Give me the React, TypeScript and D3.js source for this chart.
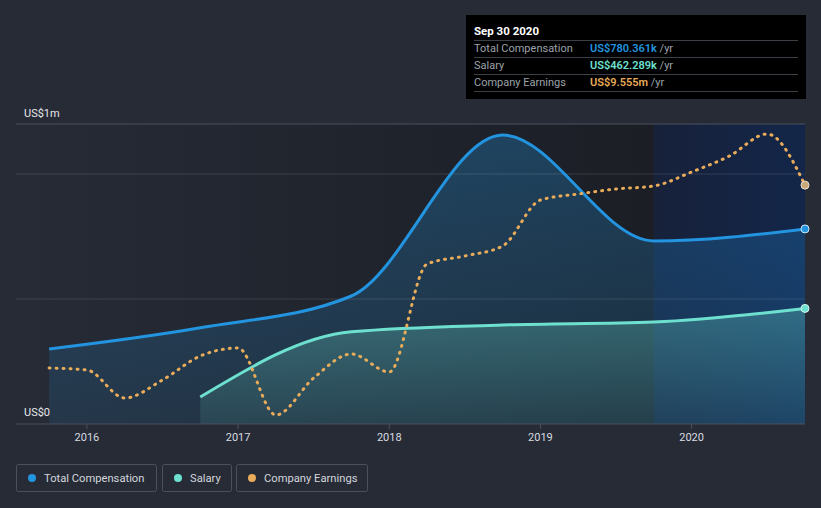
import React from "react";
import * as d3 from "d3";

const compDates = [2015.75, 2016.75, 2017.75, 2018.75, 2019.75, 2020.75];
const compValues = [300, 385, 512, 1156, 732, 780.361]; // US$k

const salaryDates = [2016.75, 2017.75, 2018.75, 2019.75, 2020.75];
const salaryValues = [108, 369, 396, 408, 462.289]; // US$k

const earningsDates = [
  2015.75, 2016.0, 2016.25, 2016.5, 2016.75, 2017.0, 2017.25, 2017.5, 2017.75,
  2018.0, 2018.25, 2018.5, 2018.75, 2019.0, 2019.25, 2019.5, 2019.75, 2020.0,
  2020.25, 2020.5, 2020.75,
];
const earningsValues = [
  2.24, 2.16, 1.04, 1.76, 2.72, 3.04, 0.36, 1.84, 2.8, 2.08, 6.4, 6.72, 7.12,
  8.96, 9.2, 9.4, 9.52, 10.08, 10.72, 11.6, 9.555,
]; // US$m

const yearTicks = [2016, 2017, 2018, 2019, 2020];
const compGridValues = [0, 500, 1000, 1200];

const W = 821;
const H = 508;
const FONT = "Roboto, 'Noto Sans', sans-serif";

export default function App() {
  const left = 16;
  const right = 805;
  const top = 124;
  const bottom = 424;

  const x = d3.scaleLinear().domain([2015.531, 2020.75]).range([left, right]);
  const yComp = d3.scaleLinear().domain([0, 1200]).range([bottom, top]);
  const yEarn = d3.scaleLinear().domain([0, 12]).range([bottom, top]);

  const comp = compDates.map((d, i) => ({ d, v: compValues[i] }));
  const sal = salaryDates.map((d, i) => ({ d, v: salaryValues[i] }));
  const earn = earningsDates.map((d, i) => ({ d, v: earningsValues[i] }));

  const compLine = d3
    .line<{ d: number; v: number }>()
    .x((p) => x(p.d))
    .y((p) => yComp(p.v))
    .curve(d3.curveMonotoneX);
  const compArea = d3
    .area<{ d: number; v: number }>()
    .x((p) => x(p.d))
    .y0(bottom)
    .y1((p) => yComp(p.v))
    .curve(d3.curveMonotoneX);
  const earnLine = d3
    .line<{ d: number; v: number }>()
    .x((p) => x(p.d))
    .y((p) => yEarn(p.v))
    .curve(d3.curveMonotoneX);

  const hlStart = x(2019.75);
  const lastComp = comp[comp.length - 1];
  const lastSal = sal[sal.length - 1];
  const lastEarn = earn[earn.length - 1];

  const legend = [
    { label: "Total Compensation", color: "#2394df", x: 16, w: 140 },
    { label: "Salary", color: "#6ee0cf", x: 162, w: 69 },
    { label: "Company Earnings", color: "#e9ac5a", x: 236, w: 131 },
  ];

  const rows = [
    { label: "Total Compensation", value: "US$780.361k", color: "#2394df" },
    { label: "Salary", value: "US$462.289k", color: "#6ee0cf" },
    { label: "Company Earnings", value: "US$9.555m", color: "#e9ac5a" },
  ];

  return (
    <svg
      width={W}
      height={H}
      style={{ position: "absolute", left: 0, top: 0, fontFamily: FONT }}
    >
      <defs>
        <linearGradient id="bgPast" x1="0" x2="1" y1="0" y2="0">
          <stop offset="0%" stopColor="#262b36" />
          <stop offset="100%" stopColor="#1b1e25" />
        </linearGradient>
        <linearGradient id="bgHl" x1="0" x2="1" y1="0" y2="0">
          <stop offset="0%" stopColor="#17213a" />
          <stop offset="100%" stopColor="#132649" />
        </linearGradient>
        <linearGradient id="compFill" x1="0" x2="0" y1="0" y2="1">
          <stop offset="0%" stopColor="#2394df" stopOpacity={0.3} />
          <stop offset="100%" stopColor="#2394df" stopOpacity={0.12} />
        </linearGradient>
        <linearGradient id="salFill" x1="0" x2="0" y1="0" y2="1">
          <stop offset="0%" stopColor="#6ee0cf" stopOpacity={0.3} />
          <stop offset="100%" stopColor="#6ee0cf" stopOpacity={0.1} />
        </linearGradient>
      </defs>

      <rect x={0} y={0} width={W} height={H} fill="#262b36" />
      <rect x={left} y={top} width={hlStart - left} height={bottom - top} fill="url(#bgPast)" />
      <rect x={hlStart} y={top} width={right - hlStart} height={bottom - top} fill="url(#bgHl)" />

      <path d={compArea(comp) || ""} fill="url(#compFill)" />
      <path d={compArea(sal) || ""} fill="url(#salFill)" />

      {compGridValues.map((v) => (
        <line
          key={v}
          x1={left}
          x2={right}
          y1={yComp(v)}
          y2={yComp(v)}
          stroke={v === 0 || v === 1200 ? "#4a505c" : "rgba(255,255,255,0.12)"}
          strokeWidth={1}
        />
      ))}

      {yearTicks.map((t) => (
        <g key={t}>
          <line x1={x(t)} x2={x(t)} y1={bottom} y2={bottom + 5} stroke="#4a505c" />
          <text
            x={x(t)}
            y={441}
            textAnchor="middle"
            fontSize={11}
            fill="#d8dbe0"
          >
            {t}
          </text>
        </g>
      ))}

      <text x={24} y={117} fontSize={11} fill="#e6e8eb">US$1m</text>
      <text x={24} y={416} fontSize={11} fill="#e6e8eb">US$0</text>

      <path d={compLine(comp) || ""} fill="none" stroke="#2394df" strokeWidth={3} />
      <path d={compLine(sal) || ""} fill="none" stroke="#6ee0cf" strokeWidth={3} />
      <path
        d={earnLine(earn) || ""}
        fill="none"
        stroke="#e9ac5a"
        strokeWidth={3}
        strokeDasharray="1 6"
        strokeLinecap="round"
      />

      <circle cx={x(lastComp.d)} cy={yComp(lastComp.v)} r={4} fill="#2394df" stroke="#cfe6f7" strokeWidth={1} />
      <circle cx={x(lastSal.d)} cy={yComp(lastSal.v)} r={4} fill="#6ee0cf" stroke="#d8f6f1" strokeWidth={1} />
      <circle cx={x(lastEarn.d)} cy={yEarn(lastEarn.v)} r={4} fill="#c9a878" stroke="#e8e0d2" strokeWidth={1} />

      {/* tooltip */}
      <rect x={466} y={15} width={340} height={84} fill="#000000" />
      <text x={474} y={35} fontSize={11.5} fontWeight={700} fill="#ffffff">Sep 30 2020</text>
      {[40.5, 57.5, 74.5, 91.5].map((yy) => (
        <line key={yy} x1={474} x2={798} y1={yy} y2={yy} stroke="#3b3f46" />
      ))}
      {rows.map((r, i) => (
        <g key={r.label}>
          <text x={474} y={52 + i * 17} fontSize={11} fill="#9da2aa">{r.label}</text>
          <text x={590} y={52 + i * 17} fontSize={11} fill={r.color} fontWeight={600}>
            {r.value}
            <tspan fill="#9da2aa" fontWeight={400}> /yr</tspan>
          </text>
        </g>
      ))}

      {/* legend */}
      {legend.map((l) => (
        <g key={l.label}>
          <rect x={l.x + 0.5} y={464.5} width={l.w} height={27} rx={2} fill="none" stroke="#4a505c" />
          <circle cx={l.x + 16} cy={478} r={4} fill={l.color} />
          <text x={l.x + 28} y={482} fontSize={11.2} fill="#d3d6dc">{l.label}</text>
        </g>
      ))}
    </svg>
  );
}
